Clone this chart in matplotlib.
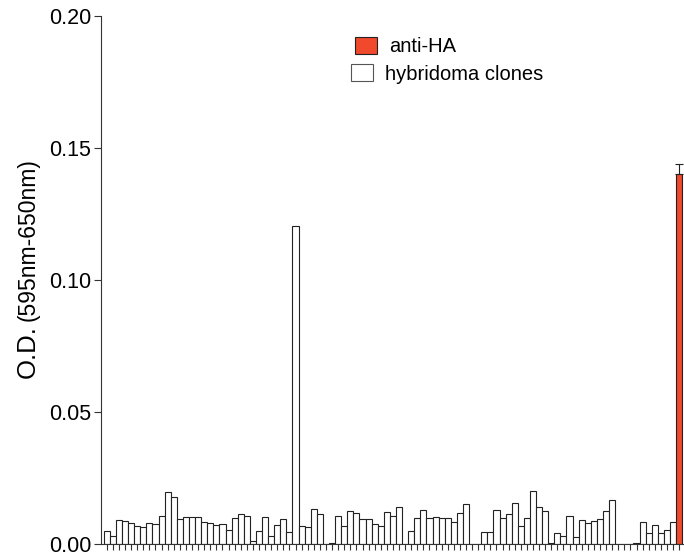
import numpy as np
import matplotlib
matplotlib.use('Agg')
import matplotlib.pyplot as plt
from matplotlib.patches import Rectangle

plt.rcParams['font.family'] = ['Liberation Sans', 'DejaVu Sans']

# O.D. readings of the hybridoma clone supernatants (wells 1-94)
clones = [0.0050, 0.0030, 0.0091, 0.0087, 0.0078, 0.0068, 0.0066, 0.0081, 0.0076, 0.0107,
          0.0196, 0.0179, 0.0095, 0.0102, 0.0102, 0.0102, 0.0082, 0.0078, 0.0071, 0.0075,
          0.0053, 0.0098, 0.0114, 0.0107, 0.0011, 0.0050, 0.0104, 0.0032, 0.0072, 0.0093,
          0.0045, 0.1205, 0.0068, 0.0064, 0.0131, 0.0114, 0.0, 0.0003, 0.0105, 0.0069,
          0.0124, 0.0119, 0.0096, 0.0096, 0.0076, 0.0068, 0.0121, 0.0107, 0.0139, 0.0,
          0.0049, 0.0098, 0.0129, 0.0097, 0.0102, 0.0098, 0.0097, 0.0085, 0.0119, 0.0152,
          0.0, 0.0, 0.0044, 0.0045, 0.0129, 0.0098, 0.0115, 0.0155, 0.0069, 0.0100,
          0.0200, 0.0139, 0.0126, 0.0002, 0.0042, 0.0030, 0.0106, 0.0027, 0.0091, 0.0081,
          0.0088, 0.0093, 0.0124, 0.0165, 0.0, 0.0, 0.0, 0.0004, 0.0085, 0.0040,
          0.0073, 0.0043, 0.0054, 0.0083]
# positive control
anti_ha = 0.140
anti_ha_err = 0.004

red = '#f0492c'

fig = plt.figure(figsize=(6.84, 5.57), dpi=100)
ax = fig.add_axes([101 / 684, 13 / 557, 583 / 684, 528 / 557])

x = np.arange(len(clones))
ax.bar(x, clones, width=1.0, color='white', edgecolor='#222222', linewidth=0.8)
ax.bar([len(clones)], [anti_ha], width=1.0, color=red, edgecolor='#222222', linewidth=0.8,
       yerr=[[0], [anti_ha_err]], capsize=3, error_kw=dict(elinewidth=0.8, capthick=0.8, ecolor='#222222'))

ax.set_xlim(-0.95, len(clones) + 0.8)
ax.set_ylim(0, 0.20)
ax.set_yticks([0.0, 0.05, 0.10, 0.15, 0.20])
ax.set_yticklabels(['0.00', '0.05', '0.10', '0.15', '0.20'], fontsize=15.5)
ax.set_xticks(np.arange(len(clones) + 1))
ax.set_xticklabels([])
ax.tick_params(axis='x', length=4, width=0.8, color='#333333')
ax.tick_params(axis='y', length=5, width=0.8, color='#333333', pad=2)
for s in ['top', 'right']:
    ax.spines[s].set_visible(False)
for s in ['left', 'bottom']:
    ax.spines[s].set_linewidth(0.8)
    ax.spines[s].set_color('#333333')

# y label in two sizes
fig.text(35 / 684, 1 - 378 / 557, 'O.D.', rotation=90, rotation_mode='anchor',
         ha='left', va='baseline', fontsize=18.5)
fig.text(35 / 684, 1 - 321 / 557, '(595nm-650nm)', rotation=90, rotation_mode='anchor',
         ha='left', va='baseline', fontsize=16.5)

# legend
fig.patches.append(Rectangle((355 / 684, 1 - 54 / 557), 22 / 684, 17 / 557, transform=fig.transFigure,
                             facecolor=red, edgecolor='#222222', linewidth=0.8))
fig.text(389 / 684, 1 - 47 / 557, 'anti-HA', fontsize=14.5, va='center')
fig.patches.append(Rectangle((351 / 684, 1 - 81 / 557), 22 / 684, 17 / 557, transform=fig.transFigure,
                             facecolor='white', edgecolor='#555555', linewidth=0.8))
fig.text(385 / 684, 1 - 74 / 557, 'hybridoma clones', fontsize=14.5, va='center')

fig.savefig('out.png', dpi=100)
